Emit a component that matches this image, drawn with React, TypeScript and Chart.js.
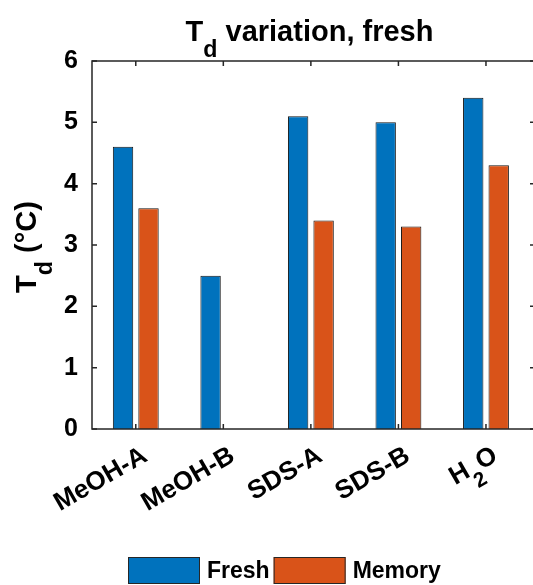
import { useEffect, useRef } from 'react';
import { Chart, registerables } from 'chart.js';

Chart.register(...registerables);

// Category names use a TeX-like "_x" marker for a one-character subscript.
const categories = ['MeOH-A', 'MeOH-B', 'SDS-A', 'SDS-B', 'H_2O'];
const freshValues: (number | null)[] = [4.6, 2.5, 5.1, 5.0, 5.4];
const memoryValues: (number | null)[] = [3.6, null, 3.4, 3.3, 4.3];
const seriesNames = ['Fresh', 'Memory'];
const seriesColors = ['#0072BD', '#D95319'];
const yTicks = [0, 1, 2, 3, 4, 5, 6];
const titleText = 'T_d variation, fresh';
const yTitleText = 'T_d (°C)';

const FONT_FAMILY = '"Liberation Sans", Arial, Helvetica, sans-serif';

type Seg = { text: string; sub: boolean };

function parseRich(s: string): Seg[] {
  const segs: Seg[] = [];
  let buf = '';
  for (let i = 0; i < s.length; i++) {
    if (s[i] === '_' && i + 1 < s.length) {
      if (buf) {
        segs.push({ text: buf, sub: false });
        buf = '';
      }
      segs.push({ text: s[i + 1], sub: true });
      i++;
    } else {
      buf += s[i];
    }
  }
  if (buf) segs.push({ text: buf, sub: false });
  return segs;
}

function drawRich(
  ctx: CanvasRenderingContext2D,
  s: string,
  x: number,
  y: number,
  size: number,
  align: 'left' | 'center' | 'right',
  color = '#000'
) {
  const segs = parseRich(s);
  const subSize = size * 0.8;
  const mainFont = `bold ${size}px ${FONT_FAMILY}`;
  const subFont = `bold ${subSize}px ${FONT_FAMILY}`;
  const widths = segs.map((seg) => {
    ctx.font = seg.sub ? subFont : mainFont;
    return ctx.measureText(seg.text).width;
  });
  const total = widths.reduce((a, b) => a + b, 0);
  let cx = align === 'left' ? x : align === 'center' ? x - total / 2 : x - total;
  ctx.textAlign = 'left';
  ctx.textBaseline = 'alphabetic';
  ctx.fillStyle = color;
  segs.forEach((seg, i) => {
    ctx.font = seg.sub ? subFont : mainFont;
    ctx.fillText(seg.text, cx, seg.sub ? y + size * 0.55 : y);
    cx += widths[i];
  });
}

const decorPlugin = {
  id: 'decor',
  afterDatasetsDraw(chart: any) {
    const { ctx, chartArea: a, scales } = chart;
    const xs = scales.x;
    const ys = scales.y;
    ctx.save();

    // axes box
    ctx.strokeStyle = '#262626';
    ctx.lineWidth = 1.5;
    ctx.strokeRect(a.left, a.top, a.right - a.left, a.bottom - a.top);

    // inward tick marks on all four sides
    const tl = 5;
    ctx.beginPath();
    xs.ticks.forEach((t: any) => {
      const px = xs.getPixelForValue(t.value);
      ctx.moveTo(px, a.bottom);
      ctx.lineTo(px, a.bottom - tl);
      ctx.moveTo(px, a.top);
      ctx.lineTo(px, a.top + tl);
    });
    ys.ticks.forEach((t: any) => {
      const py = ys.getPixelForValue(t.value);
      ctx.moveTo(a.left, py);
      ctx.lineTo(a.left + tl, py);
      ctx.moveTo(a.right, py);
      ctx.lineTo(a.right - tl, py);
    });
    ctx.stroke();

    // rotated category labels
    xs.ticks.forEach((t: any, i: number) => {
      const px = xs.getPixelForValue(t.value);
      ctx.save();
      ctx.translate(px + 13, a.bottom + 31);
      ctx.rotate(-Math.PI / 6);
      drawRich(ctx, categories[i], 0, 0, 26, 'right');
      ctx.restore();
    });

    // title
    drawRich(ctx, titleText, (a.left + a.right) / 2 - 4, 41, 29, 'center');

    // y axis title
    ctx.save();
    ctx.translate(36, (a.top + a.bottom) / 2 + 2);
    ctx.rotate(-Math.PI / 2);
    drawRich(ctx, yTitleText, 0, 0, 29, 'center');
    ctx.restore();

    // legend
    const boxW = 72;
    const boxH = 27;
    const boxY = 557;
    let lx = 128;
    chart.data.datasets.forEach((ds: any) => {
      ctx.fillStyle = ds.backgroundColor;
      ctx.fillRect(lx, boxY, boxW, boxH);
      ctx.strokeStyle = '#262626';
      ctx.lineWidth = 1;
      ctx.strokeRect(lx + 0.5, boxY + 0.5, boxW - 1, boxH - 1);
      ctx.fillStyle = '#000';
      ctx.textAlign = 'left';
      ctx.textBaseline = 'middle';
      ctx.font = `bold 23px ${FONT_FAMILY}`;
      const tx = lx + boxW + 7;
      ctx.fillText(ds.label, tx, boxY + boxH / 2 + 1);
      lx = tx + ctx.measureText(ds.label).width + 4;
    });

    ctx.restore();
  },
};

export default function App() {
  const ref = useRef<HTMLCanvasElement>(null);

  useEffect(() => {
    const canvas = ref.current;
    if (!canvas) return;
    const seriesValues = [freshValues, memoryValues];
    const chart = new Chart(canvas, {
      type: 'bar',
      data: {
        datasets: seriesValues.map((vals, k) => ({
          label: seriesNames[k],
          data: vals.map((v, i) => ({ x: i + 1, y: v })) as any,
          backgroundColor: seriesColors[k],
          borderColor: '#141414',
          borderWidth: 1,
          barPercentage: 0.8,
          categoryPercentage: 0.582,
        })),
      },
      options: {
        animation: false,
        responsive: false,
        devicePixelRatio: 1,
        layout: { padding: { top: 61, right: 10, left: 0, bottom: 0 } },
        plugins: {
          legend: { display: false },
          title: { display: false },
          tooltip: { enabled: false },
        },
        scales: {
          x: {
            type: 'linear',
            min: 0.5,
            max: 5.56,
            offset: false,
            grid: { display: false, drawTicks: false },
            border: { display: false },
            ticks: { display: false },
            afterBuildTicks: (s: any) => {
              s.ticks = categories.map((_, i) => ({ value: i + 1 }));
            },
            afterFit: (s: any) => {
              s.height = 156;
            },
          },
          y: {
            type: 'linear',
            min: 0,
            max: 6,
            grid: { display: false, drawTicks: false },
            border: { display: false },
            ticks: {
              color: '#000',
              padding: 14,
              font: { family: FONT_FAMILY, size: 25, weight: 'bold' },
            },
            afterBuildTicks: (s: any) => {
              s.ticks = yTicks.map((v) => ({ value: v }));
            },
            afterFit: (s: any) => {
              s.width = 92;
            },
          },
        },
      } as any,
      plugins: [decorPlugin],
    });
    return () => chart.destroy();
  }, []);

  return (
    <div
      style={{
        position: 'absolute',
        left: 0,
        top: 0,
        width: 533,
        height: 585,
        overflow: 'hidden',
        background: '#fff',
      }}
    >
      <canvas ref={ref} width={545} height={585} style={{ display: 'block', width: 545, height: 585 }} />
    </div>
  );
}
